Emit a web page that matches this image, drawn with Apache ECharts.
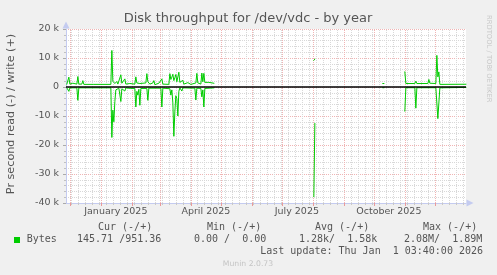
<!DOCTYPE html>
<html><head><meta charset="utf-8">
<script src="https://cdn.jsdelivr.net/npm/echarts@6/dist/echarts.min.js"></script>
<style>html,body{margin:0;padding:0;background:#f0f0f0;}#c{width:497px;height:275px;}</style>
</head><body><div id="c"></div>
<script>
// ---------- data ----------
const rangeStart = '2024-11-27T03:40:00Z';
const rangeEnd = '2026-01-01T03:40:00Z';
const monthStarts = ['2024-12-01','2025-01-01','2025-02-01','2025-03-01','2025-04-01','2025-05-01','2025-06-01',
  '2025-07-01','2025-08-01','2025-09-01','2025-10-01','2025-11-01','2025-12-01'];
const firstMonday = '2024-12-02';
const labelDates = ['2025-01-16','2025-04-16','2025-07-16','2025-10-16'];
const labelTexts = ['January 2025','April 2025','July 2025','October 2025'];

// write rate (bytes/s, positive side); null = no data (gap)
const writeDates = ['2024-11-28','2024-11-29','2024-11-30','2024-12-01','2024-12-04','2024-12-05','2024-12-08','2024-12-09','2024-12-10',
  '2024-12-13','2024-12-14','2024-12-15','2024-12-25','2024-12-26','2024-12-27','2025-01-11','2025-01-12','2025-01-13','2025-01-14',
  '2025-01-15','2025-01-17','2025-01-18','2025-01-20','2025-01-21','2025-01-22','2025-01-24','2025-01-25','2025-01-26','2025-01-30',
  '2025-02-04','2025-02-05','2025-02-06','2025-02-08','2025-02-09','2025-02-15','2025-02-16','2025-02-17','2025-02-19','2025-02-22',
  '2025-02-23','2025-02-24','2025-02-28','2025-03-03','2025-03-04','2025-03-10','2025-03-11','2025-03-12','2025-03-13','2025-03-14',
  '2025-03-15','2025-03-16','2025-03-17','2025-03-18','2025-03-19','2025-03-20','2025-03-21','2025-03-22','2025-03-24','2025-03-25',
  '2025-03-29','2025-04-01','2025-04-06','2025-04-07','2025-04-08','2025-04-11','2025-04-12','2025-04-13','2025-04-14','2025-04-15',
  '2025-04-17','2025-04-19','2025-04-21','2025-04-24',
  '2025-06-01',
  '2025-08-02','2025-08-03',
  '2025-09-01',
  '2025-10-10','2025-10-11',
  '2025-10-20',
  '2025-11-01','2025-11-02','2025-11-11','2025-11-12','2025-11-13','2025-11-24','2025-11-25','2025-11-26','2025-12-02','2025-12-03',
  '2025-12-04','2025-12-05','2025-12-06','2026-01-01'];
const writeBps = [1000,1100,3400,1000,1300,900,1000,3600,1000,
  1000,2200,900,900,1300,900,900,12600,2000,2500,
  1200,1900,1000,1300,4200,1300,1500,2800,1000,1200,
  1000,3500,1400,1800,1200,1400,4600,1800,1000,1400,
  2200,800,1300,2800,1000,900,4600,2600,3400,4400,
  2200,3200,4300,1800,2200,5100,1600,1100,2300,1000,
  1500,900,1400,4700,1400,1000,4800,1800,4700,1600,
  1000,1600,1200,1300,
  null,
  9200,9600,
  null,
  1200,1200,
  null,
  5200,1200,1200,2000,1200,1200,2600,1300,1200,10900,
  3500,5200,900,950];

// read rate (bytes/s, drawn on negative side)
const readDates = ['2024-11-28','2024-11-29','2024-11-30','2024-12-01','2024-12-08','2024-12-09','2024-12-10','2025-01-11','2025-01-12',
  '2025-01-13','2025-01-14','2025-01-15','2025-01-16','2025-01-18','2025-01-19','2025-01-20','2025-01-21','2025-01-22','2025-01-25',
  '2025-01-26','2025-01-31','2025-02-04','2025-02-05','2025-02-06','2025-02-07','2025-02-08','2025-02-09','2025-02-10','2025-02-16',
  '2025-02-17','2025-02-18','2025-03-02','2025-03-03','2025-03-04','2025-03-11','2025-03-12','2025-03-13','2025-03-14','2025-03-15',
  '2025-03-16','2025-03-17','2025-03-18','2025-03-19','2025-03-20','2025-03-21','2025-03-23','2025-03-24','2025-04-05','2025-04-06',
  '2025-04-07','2025-04-11','2025-04-12','2025-04-13','2025-04-14','2025-04-15','2025-04-24',
  '2025-06-01',
  '2025-08-02','2025-08-03',
  '2025-09-01',
  '2025-10-10','2025-10-11',
  '2025-10-20',
  '2025-11-01','2025-11-02','2025-11-11','2025-11-12','2025-11-13','2025-12-02','2025-12-03','2025-12-04','2025-12-05','2025-12-06',
  '2026-01-01'];
const readBps = [300,300,1500,300,300,4600,300,300,17400,
  8000,12000,5000,1000,1400,400,600,5000,600,1400,
  300,500,500,6900,1500,2800,800,6300,500,500,
  4600,400,400,6900,400,600,2800,1000,5500,17000,
  8600,3000,4000,10000,1500,300,1400,300,400,4500,
  400,500,3400,1000,6900,500,300,
  null,
  37800,12600,
  null,
  250,250,
  null,
  8300,250,250,7300,250,250,550,10900,10300,300,
  146];

const yTickLabels = {'20000':'20 k','10000':'10 k','0':'0','-10000':'-10 k','-20000':'-20 k','-30000':'-30 k','-40000':'-40 k'};

// ---------- build ----------
const ms = s => Date.parse(s.length === 10 ? s + 'T00:00:00Z' : s);
const T0 = ms(rangeStart), T1 = ms(rangeEnd);
const monthMs = monthStarts.map(ms);
const labelMs = labelDates.map(ms);
const weekMs = [];
for (let t = ms(firstMonday); t < T1; t += 7 * 86400000) {
  if (monthMs.indexOf(t) < 0) weekMs.push(t);
}
const writeData = writeDates.map((d, i) => [ms(d), writeBps[i] == null ? null : writeBps[i]]);
const readData = readDates.map((d, i) => [ms(d), readBps[i] == null ? null : -readBps[i]]);

const FONT = 'DejaVu Sans', MONO = 'DejaVu Sans Mono';
const TXT = '#555555';
const RED = '#f0b4b4', GREY = '#d8d8d8', AXIS = '#c4cbf0', GREEN = '#00cc00';

const chart = echarts.init(document.getElementById('c'), null, {renderer: 'canvas', width: 497, height: 275});

const gtext = (x, y, text, o) => Object.assign({
  type: 'text', x: x, y: y, silent: true,
  style: Object.assign({text: text, fill: TXT, font: '10px ' + MONO, textAlign: 'left', textVerticalAlign: 'middle'}, (o && o.style) || {})
}, o && o.rotation != null ? {rotation: o.rotation} : {});

const vGrid = (values, color) => ({
  type: 'line', data: [[T0, null]], symbol: 'none', silent: true, z: 1,
  markLine: {silent: true, symbol: ['none', 'none'], label: {show: false}, animation: false, z: 1,
    lineStyle: {color: color, width: 1, type: [1, 1]}, emphasis: {disabled: true},
    data: values.map(v => ({xAxis: v}))}
});

chart.setOption({
  backgroundColor: '#f0f0f0',
  animation: false,
  grid: {left: 66, right: 31, top: 29, bottom: 72, show: true, backgroundColor: '#ffffff', borderWidth: 0},
  xAxis: [
    {
      type: 'value', min: T0, max: T1, position: 'bottom',
      axisLine: {show: false, onZero: false},
      axisTick: {show: true, customValues: weekMs, length: 2, lineStyle: {color: '#c8c8c8'}},
      axisLabel: {show: false},
      splitLine: {show: false}
    },
    {
      type: 'value', min: T0, max: T1, position: 'bottom',
      axisLine: {show: true, onZero: false, lineStyle: {color: AXIS, width: 1},
        symbol: ['none', 'triangle'], symbolSize: [7, 7], symbolOffset: [0, 4]},
      axisTick: {show: true, customValues: monthMs, length: 3, lineStyle: {color: '#e99a9a'}},
      axisLabel: {
        customValues: labelMs, color: TXT, fontFamily: FONT, fontSize: 9.5, margin: 4,
        formatter: v => {
          let best = 0;
          labelMs.forEach((t, i) => { if (Math.abs(t - v) < Math.abs(labelMs[best] - v)) best = i; });
          return labelTexts[best];
        }
      },
      splitLine: {show: false}
    }
  ],
  yAxis: {
    type: 'value', min: -40000, max: 20000, interval: 10000,
    axisLine: {show: true, onZero: false, lineStyle: {color: AXIS, width: 1},
      symbol: ['none', 'triangle'], symbolSize: [7, 7], symbolOffset: [0, 4]},
    axisTick: {show: true, length: 3, lineStyle: {color: '#aaaaaa'}},
    minorTick: {show: true, splitNumber: 5, length: 2, lineStyle: {color: '#c0c0c0'}},
    splitLine: {show: true, lineStyle: {color: RED, type: [1, 1], width: 1}},
    minorSplitLine: {show: true, lineStyle: {color: GREY, type: [1, 1], width: 1}},
    axisLabel: {color: TXT, fontFamily: FONT, fontSize: 9.5, margin: 7,
      formatter: v => yTickLabels[String(v)] || ''}
  },
  series: [
    vGrid(weekMs, GREY),
    vGrid(monthMs, RED),
    {
      type: 'line', name: 'write', xAxisIndex: 0, data: writeData, showSymbol: false, symbol: 'none',
      connectNulls: false, lineStyle: {color: GREEN, width: 1, cap: 'square'}, itemStyle: {color: GREEN}, z: 3
    },
    {
      type: 'line', name: 'read', xAxisIndex: 0, data: readData, showSymbol: false, symbol: 'none',
      connectNulls: false, lineStyle: {color: GREEN, width: 1, cap: 'square'}, itemStyle: {color: GREEN}, z: 3,
      markLine: {silent: true, symbol: ['none', 'none'], label: {show: false}, animation: false,
        lineStyle: {color: '#000000', width: 1.6, type: 'solid'}, data: [{yAxis: 0}]}
    }
  ],
  graphic: [
    gtext(248, 19, 'Disk throughput for /dev/vdc - by year', {style: {font: '13px ' + FONT, textAlign: 'center'}}),
    gtext(11, 114, 'Pr second read (-) / write (+)', {rotation: Math.PI / 2, style: {font: '11.2px ' + FONT, textAlign: 'center'}}),
    gtext(489, 15, 'RRDTOOL / TOBI OETIKER', {rotation: -Math.PI / 2, style: {font: '6.8px ' + FONT, fill: '#c8c8c8', textAlign: 'left'}}),
    gtext(98, 227.5, 'Cur (-/+)'),
    gtext(207, 227.5, 'Min (-/+)'),
    gtext(315, 227.5, 'Avg (-/+)'),
    gtext(423, 227.5, 'Max (-/+)'),
    {type: 'rect', shape: {x: 14, y: 237, width: 6, height: 6}, style: {fill: GREEN}, silent: true},
    gtext(26.7, 239.7, 'Bytes'),
    gtext(77, 239.7, '145.71 /951.36'),
    gtext(194, 239.7, '0.00 /  0.00'),
    gtext(299, 239.7, '1.28k/  1.58k'),
    gtext(404, 239.7, '2.08M/  1.89M'),
    gtext(483, 251.7, 'Last update: Thu Jan  1 03:40:00 2026', {style: {textAlign: 'right'}}),
    gtext(248, 264, 'Munin 2.0.73', {style: {font: '7.7px ' + FONT, fill: '#c4c4c4', textAlign: 'center'}})
  ]
});
</script>
</body></html>
